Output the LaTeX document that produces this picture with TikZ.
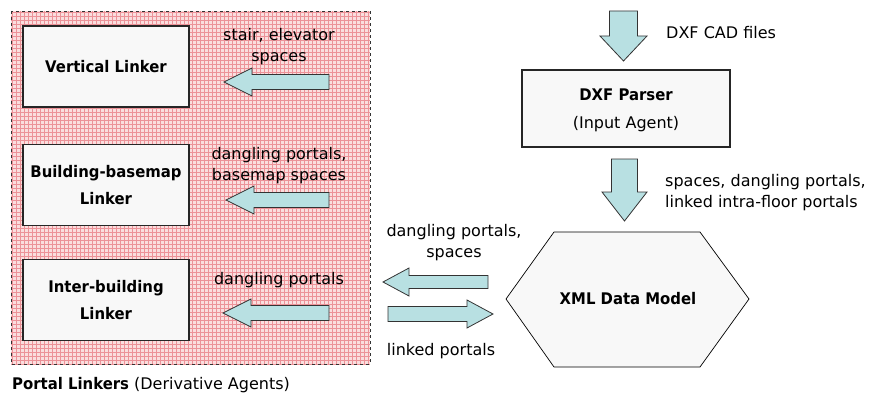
\documentclass[tikz,border=0pt]{standalone}
\usepackage{fontspec}
\setmainfont{DejaVu Sans}[BoldFeatures={FakeStretch=0.93}]
\usetikzlibrary{positioning,calc}

\definecolor{areapink}{RGB}{250,222,222}
\definecolor{arearule}{RGB}{236,146,152}
\definecolor{arrowcyan}{RGB}{184,224,226}
\definecolor{boxgray}{RGB}{248,248,248}

\tikzset{
  linkerbox/.style={draw=black!85, line width=1.2pt, fill=boxgray, minimum width=166pt,
    minimum height=81pt, align=center, font=\fontsize{16}{27}\selectfont\bfseries},
  parserbox/.style={draw=black!85, line width=1.2pt, fill=boxgray, minimum width=208pt,
    minimum height=77pt},
  flowlabel/.style={align=center, font=\fontsize{16}{21}\selectfont, inner sep=0pt},
  arrowbody/.style={draw=black!80, line width=0.8pt, fill=arrowcyan, line join=miter},
  modelshape/.style={draw=black, line width=0.7pt, fill=boxgray},
  pics/blockarrow/.style n args={4}{code={
    \draw[arrowbody] (0,0) -- (-#2,#3) -- (-#2,#4) -- (-#1,#4) -- (-#1,-#4)
      -- (-#2,-#4) -- (-#2,-#3) -- cycle;
  }},
}

\begin{document}
\begin{tikzpicture}[x=1pt, y=-1pt]
  \useasboundingbox (0,0) rectangle (878,396);

  % portal linker area
  \fill[areapink] (11,11) rectangle (370,364);
  \draw[arearule, line width=0.5pt, step=4pt] (11,11) grid (370,364);
  \draw[black!80, dashed, line width=0.8pt] (11,11) rectangle (370,364);

  \node[linkerbox] (vert) at (106,66.5) {Vertical Linker};
  \node[linkerbox, below=36pt of vert] (bbm) {Building-basemap\\Linker};
  \node[linkerbox, below=33pt of bbm] (inter) {Inter-building\\Linker};

  \pic[rotate=180] at (224,82) {blockarrow={105}{28}{14}{7.5}};
  \pic[rotate=180] at (226,200) {blockarrow={103}{28}{14}{7.5}};
  \pic[rotate=180] at (223,313) {blockarrow={106}{28}{14}{7.5}};

  \node[flowlabel] (vertin) at (279,47) {stair, elevator\\spaces};
  \node[flowlabel] (bbmin) at (279,166) {dangling portals,\\basemap spaces};
  \node[flowlabel] (interin) at (279,280) {dangling portals};

  \node[anchor=base west, inner sep=0pt, font=\fontsize{16}{19}\selectfont] (area) at (12,389)
    {\textbf{Portal Linkers} (Derivative Agents)};

  % input side
  \node[parserbox] (dxf) at (626,108.5) {};
  \node[flowlabel, font=\fontsize{16}{28}\selectfont] (dxftext) at ($(dxf)+(0,1.5)$)
    {\textbf{DXF Parser}\\(Input Agent)};
  \pic[rotate=-90] at (623.5,61) {blockarrow={50}{25}{23.5}{14}};
  \pic[rotate=-90] at (624.5,221) {blockarrow={62}{29}{22.5}{13}};
  \node[flowlabel, anchor=west] (cad) at (666,33) {DXF CAD files};
  \node[flowlabel, anchor=west, align=left] (parsed) at (665,193)
    {spaces, dangling portals,\\linked intra-floor portals};

  % data model
  \node[inner sep=0pt] (xml) at (628,299) {};
  \draw[modelshape] ($(xml)+(-122,0)$) -- ($(xml)+(-74,-67)$) -- ($(xml)+(72,-67)$)
    -- ($(xml)+(121,0)$) -- ($(xml)+(72,68)$) -- ($(xml)+(-74,68)$) -- cycle;
  \node[font=\fontsize{16}{19}\selectfont\bfseries] (xmltext) at (xml) {XML Data Model};

  \pic[rotate=180] at (383,282) {blockarrow={105}{26}{14}{6.5}};
  \pic at (493,314) {blockarrow={105}{26}{14}{7.5}};
  \node[flowlabel] (toarea) at (454,243) {dangling portals,\\spaces};
  \node[flowlabel] (fromarea) at (441,351) {linked portals};
\end{tikzpicture}
\end{document}
